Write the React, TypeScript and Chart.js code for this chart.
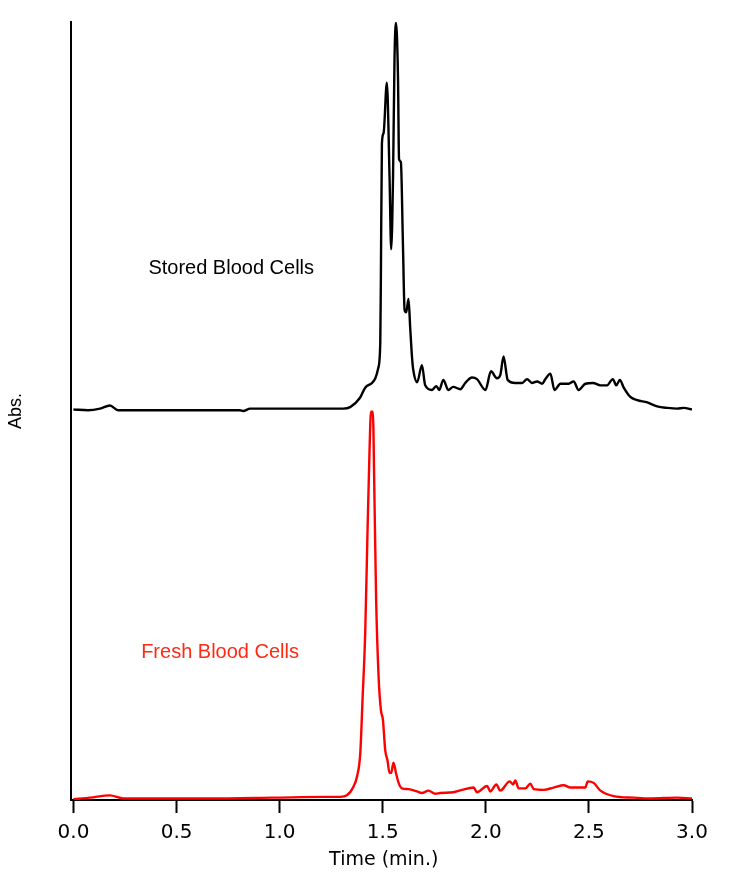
import { useEffect, useRef } from "react";
import { Chart, registerables } from "chart.js";

Chart.register(...registerables);

const xTickValues = [0, 0.5, 1.0, 1.5, 2.0, 2.5, 3.0];

const storedTime = [
  0.0, 0.07, 0.129, 0.177, 0.216, 0.42, 0.807, 0.823, 0.857, 1.1, 1.308, 1.342,
  1.39, 1.415, 1.448, 1.464, 1.478, 1.488, 1.491, 1.496, 1.504, 1.52, 1.533, 1.541,
  1.55, 1.557, 1.564, 1.574, 1.579, 1.588, 1.598, 1.606, 1.614, 1.625, 1.633, 1.642,
  1.648, 1.667, 1.69, 1.706, 1.739, 1.76, 1.774, 1.794, 1.818, 1.842, 1.876, 1.9,
  1.933, 1.957, 1.998, 2.025, 2.054, 2.07, 2.086, 2.106, 2.143, 2.176, 2.2, 2.224,
  2.249, 2.273, 2.289, 2.313, 2.333, 2.362, 2.402, 2.426, 2.45, 2.483, 2.52, 2.556,
  2.588, 2.616, 2.633, 2.65, 2.669, 2.701, 2.734, 2.783, 2.831, 2.88, 2.928, 2.96, 3.0,
];
const storedAbs = [
  0.502, 0.501, 0.503, 0.507, 0.501, 0.501, 0.501, 0.5, 0.503, 0.503, 0.503, 0.505,
  0.517, 0.53, 0.536, 0.542, 0.555, 0.587, 0.672, 0.844, 0.857, 0.922, 0.801, 0.708,
  0.801, 0.951, 0.999, 0.929, 0.824, 0.82, 0.714, 0.63, 0.627, 0.644, 0.608, 0.569,
  0.553, 0.537, 0.559, 0.533, 0.527, 0.532, 0.527, 0.54, 0.527, 0.531, 0.528, 0.536,
  0.543, 0.541, 0.527, 0.551, 0.542, 0.546, 0.57, 0.54, 0.536, 0.536, 0.541, 0.536,
  0.538, 0.535, 0.541, 0.548, 0.527, 0.535, 0.535, 0.538, 0.527, 0.535, 0.536, 0.533,
  0.533, 0.541, 0.533, 0.54, 0.53, 0.518, 0.514, 0.511, 0.506, 0.504, 0.503, 0.504, 0.502,
];

const freshTime = [
  0.0, 0.08, 0.177, 0.242, 0.323, 0.647, 0.97, 1.213, 1.294, 1.326, 1.358, 1.375,
  1.391, 1.402, 1.415, 1.426, 1.436, 1.443, 1.452, 1.46, 1.468, 1.48, 1.491, 1.501,
  1.512, 1.523, 1.533, 1.541, 1.552, 1.564, 1.577, 1.593, 1.625, 1.666, 1.69, 1.722,
  1.755, 1.779, 1.842, 1.884, 1.941, 1.957, 2.006, 2.022, 2.051, 2.07, 2.116, 2.132,
  2.143, 2.159, 2.192, 2.216, 2.232, 2.281, 2.329, 2.378, 2.41, 2.483, 2.494, 2.523,
  2.556, 2.62, 2.717, 2.799, 2.928, 3.0,
];
const freshAbs = [
  0.001, 0.003, 0.006, 0.002, 0.002, 0.002, 0.003, 0.004, 0.004, 0.006, 0.017, 0.03,
  0.06, 0.129, 0.215, 0.343, 0.45, 0.499, 0.499, 0.386, 0.257, 0.158, 0.116, 0.103,
  0.064, 0.051, 0.035, 0.035, 0.048, 0.035, 0.022, 0.015, 0.014, 0.011, 0.009, 0.012,
  0.008, 0.009, 0.01, 0.013, 0.016, 0.01, 0.018, 0.011, 0.02, 0.012, 0.024, 0.02,
  0.025, 0.015, 0.015, 0.021, 0.014, 0.013, 0.016, 0.019, 0.016, 0.016, 0.024, 0.022,
  0.012, 0.005, 0.003, 0.002, 0.003, 0.002,
];

const toPoints = (xs: number[], ys: number[]) => xs.map((x, i) => ({ x, y: ys[i] }));

const textPlugin = {
  id: "chromTexts",
  afterDraw(chart: any) {
    const ctx = chart.ctx as CanvasRenderingContext2D;
    const xs = chart.scales.x;
    const ys = chart.scales.y;
    const area = chart.chartArea;
    ctx.save();
    ctx.textAlign = "center";
    ctx.textBaseline = "middle";

    ctx.font = '20px "Liberation Sans"';
    ctx.fillStyle = "#000000";
    ctx.fillText("Stored Blood Cells", xs.getPixelForValue(0.765), ys.getPixelForValue(0.683));
    ctx.fillStyle = "#ff2a14";
    ctx.fillText("Fresh Blood Cells", xs.getPixelForValue(0.711), ys.getPixelForValue(0.189));

    ctx.fillStyle = "#000000";
    ctx.font = '19px "DejaVu Sans"';
    ctx.fillText("Time (min.)", (xs.getPixelForValue(0) + xs.getPixelForValue(3)) / 2 + 1, area.bottom + 60);

    ctx.font = '18px "Liberation Sans"';
    ctx.translate(16, (area.top + area.bottom) / 2);
    ctx.rotate(-Math.PI / 2);
    ctx.fillText("Abs.", 0, 0);
    ctx.restore();
  },
};

export default function App() {
  const canvasRef = useRef<HTMLCanvasElement | null>(null);

  useEffect(() => {
    if (!canvasRef.current) return;
    const chart = new Chart(canvasRef.current, {
      type: "line",
      data: {
        datasets: [
          {
            label: "Stored Blood Cells",
            data: toPoints(storedTime, storedAbs),
            borderColor: "#000000",
            borderWidth: 2.4,
            pointRadius: 0,
            cubicInterpolationMode: "monotone",
            borderJoinStyle: "round",
          },
          {
            label: "Fresh Blood Cells",
            data: toPoints(freshTime, freshAbs),
            borderColor: "#ff0000",
            borderWidth: 2.4,
            pointRadius: 0,
            cubicInterpolationMode: "monotone",
            borderJoinStyle: "round",
          },
        ],
      },
      options: {
        animation: false,
        responsive: false,
        maintainAspectRatio: false,
        layout: { padding: { top: 22, right: 54, left: 0, bottom: 0 } },
        plugins: {
          legend: { display: false },
          tooltip: { enabled: false },
        },
        scales: {
          x: {
            type: "linear",
            min: -0.012,
            max: 3,
            afterBuildTicks: (scale: any) => {
              scale.ticks = xTickValues.map((v) => ({ value: v }));
            },
            afterFit: (scale: any) => {
              scale.height = 75;
            },
            grid: {
              display: true,
              drawOnChartArea: false,
              drawTicks: true,
              tickLength: 13,
              tickWidth: 2,
              color: "#000000",
            },
            border: { display: true, color: "#000000", width: 2 },
            ticks: {
              color: "#000000",
              font: { family: "DejaVu Sans", size: 20 },
              padding: 8,
              maxRotation: 0,
              autoSkip: false,
              callback: (v: any) => Number(v).toFixed(1),
            },
          },
          y: {
            type: "linear",
            min: 0,
            max: 1,
            afterFit: (scale: any) => {
              scale.width = 71;
            },
            grid: { display: false, drawTicks: false },
            border: { display: true, color: "#000000", width: 2 },
            ticks: { display: false },
          },
        },
      },
      plugins: [textPlugin],
    });
    return () => chart.destroy();
  }, []);

  return (
    <div style={{ position: "fixed", left: 0, top: 0, width: 746, height: 875, background: "#ffffff" }}>
      <canvas ref={canvasRef} width={746} height={875} style={{ display: "block", width: 746, height: 875 }} />
    </div>
  );
}
